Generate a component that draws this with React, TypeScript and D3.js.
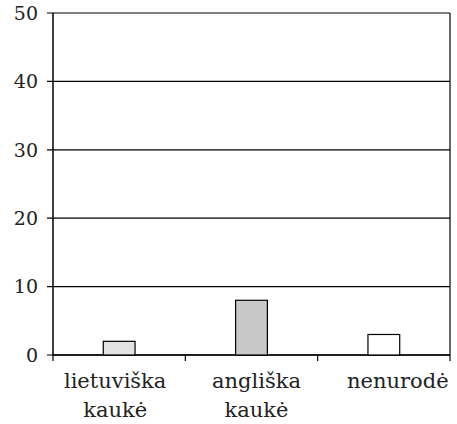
import React from "react";
import * as d3 from "d3";

const categories: string[][] = [["lietuviška", "kaukė"], ["angliška", "kaukė"], ["nenurodė"]];
const values: number[] = [2, 8, 3];
const fills: string[] = ["#e3e3e3", "#c8c8c8", "#ffffff"];
const yTicks: number[] = [0, 10, 20, 30, 40, 50];

// small label shifts (layout) relative to band centres
const labelShift: number[] = [-4, 5, 14];

export default function App() {
  const W = 457, H = 424;
  const left = 53, right = 450, top = 13, bottom = 355;
  const x = d3.scaleBand<number>().domain(d3.range(values.length)).range([left, right]).paddingInner(0).paddingOuter(0);
  const y = d3.scaleLinear().domain([0, 50]).range([bottom, top]);
  const bw = x.bandwidth() * 0.24;
  const font = "'DejaVu Serif', serif";
  return (
    <svg width={W} height={H} style={{ position: "absolute", left: 0, top: 0 }}>
      <rect x={0} y={0} width={W} height={H} fill="#fff" />
      {yTicks.map((t) => (
        <g key={t}>
          <line x1={left - 6} x2={right} y1={y(t)} y2={y(t)} stroke="#000" strokeWidth={1.2} />
          <text x={38} y={y(t)} dy="0.36em" textAnchor="end" fontFamily={font} fontSize={19} fill="#222">{t}</text>
        </g>
      ))}
      <line x1={left} x2={left} y1={top} y2={bottom} stroke="#000" strokeWidth={1.5} />
      <line x1={right} x2={right} y1={top} y2={bottom} stroke="#000" strokeWidth={1.2} />
      <line x1={left} x2={right} y1={bottom} y2={bottom} stroke="#000" strokeWidth={1.5} />
      {d3.range(values.length + 1).map((i) => {
        const xx = i < values.length ? x(i)! : right;
        return <line key={i} x1={xx} x2={xx} y1={bottom} y2={bottom + 6} stroke="#000" strokeWidth={1.2} />;
      })}
      {values.map((v, i) => {
        const cx = x(i)! + x.bandwidth() / 2;
        return (
          <rect key={i} x={cx - bw / 2} y={y(v)} width={bw} height={bottom - y(v)} fill={fills[i]} stroke="#000" strokeWidth={1.2} />
        );
      })}
      {categories.map((lines, i) => {
        const cx = x(i)! + x.bandwidth() / 2 + labelShift[i];
        return (
          <text key={i} x={cx} y={388} textAnchor="middle" fontFamily={font} fontSize={21} fill="#222">
            {lines.map((l, j) => (
              <tspan key={j} x={cx} dy={j === 0 ? 0 : 29}>{l}</tspan>
            ))}
          </text>
        );
      })}
    </svg>
  );
}
